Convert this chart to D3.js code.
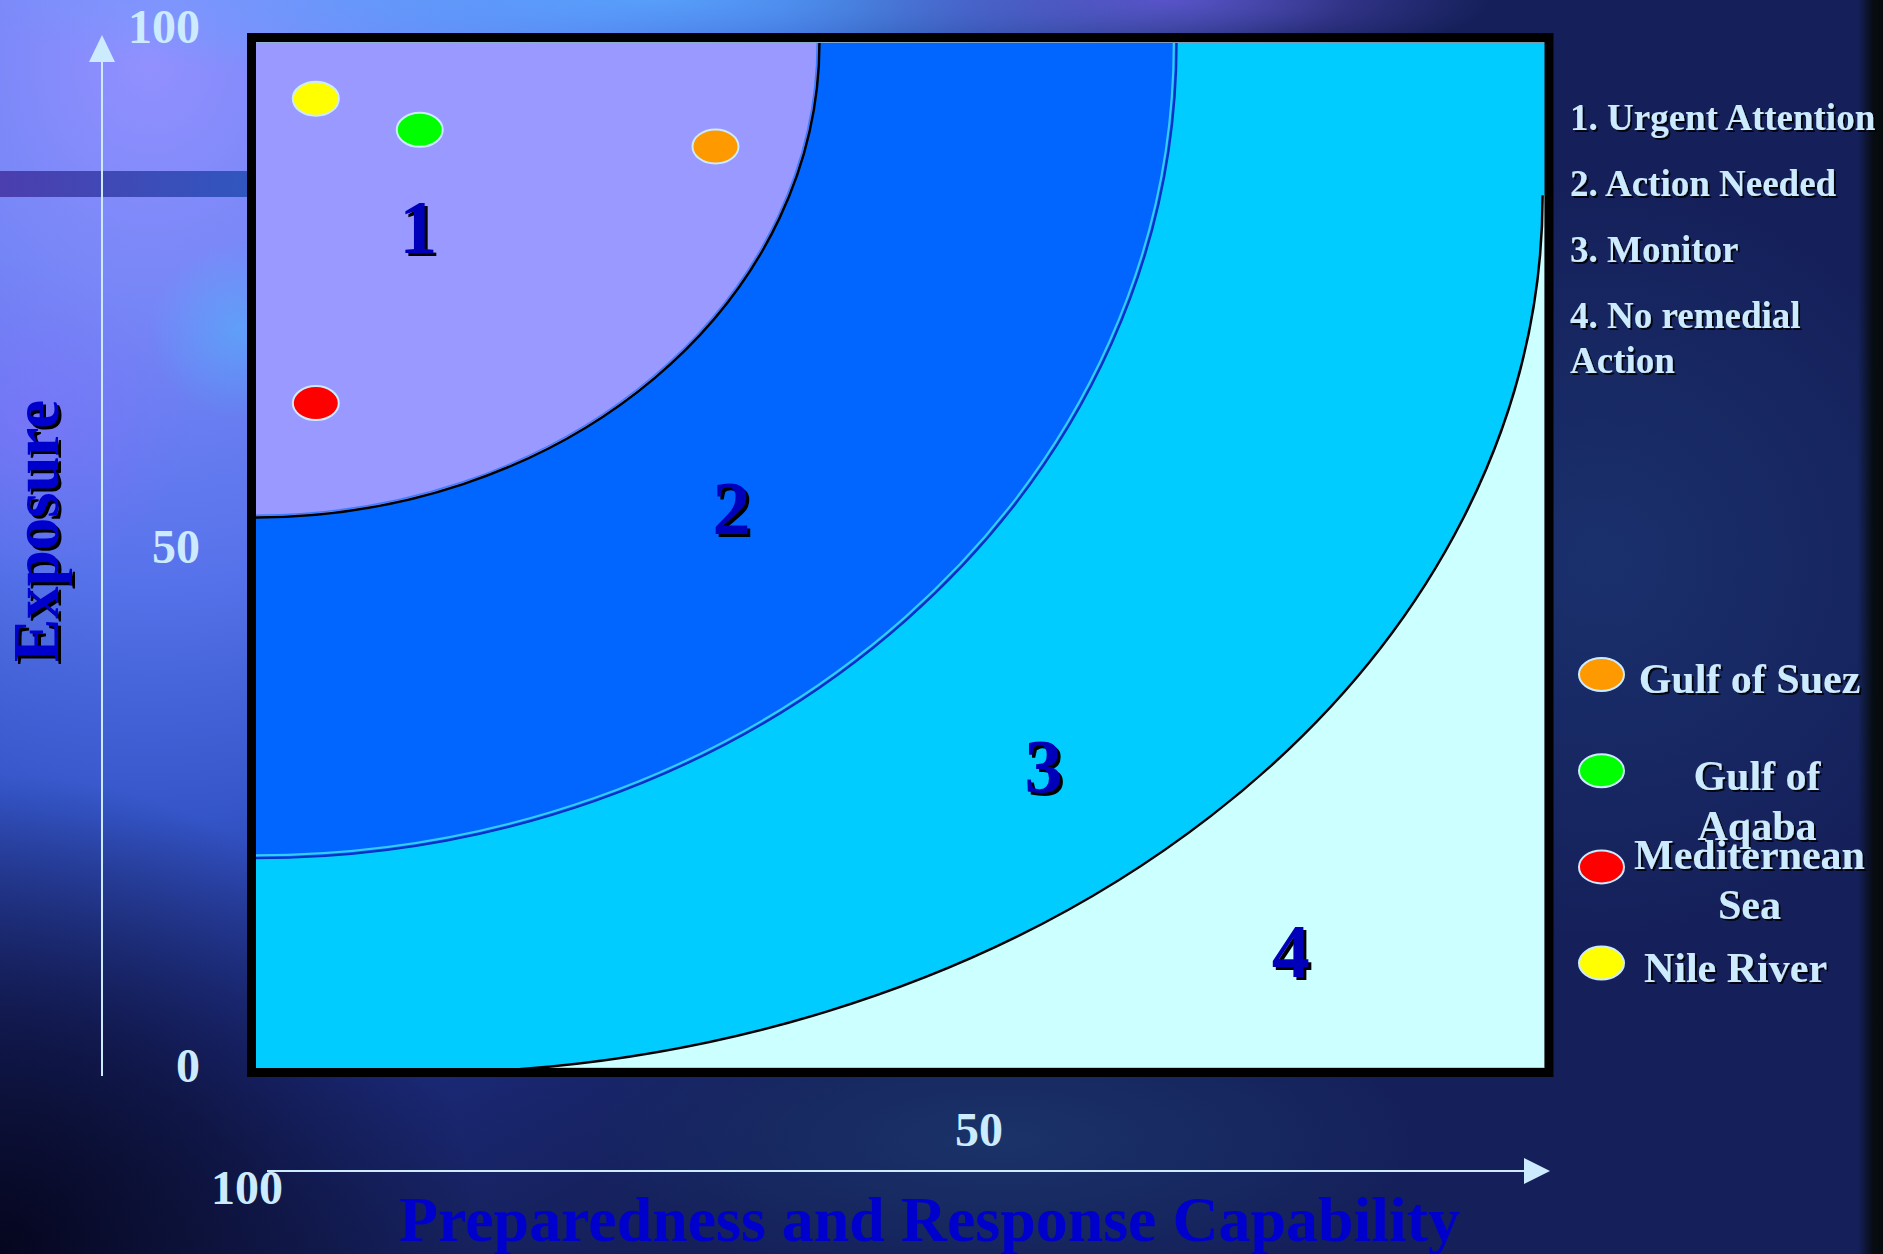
<!DOCTYPE html>
<html>
<head>
<meta charset="utf-8">
<script src="https://cdn.jsdelivr.net/npm/d3@7"></script>
<style>
  html, body { margin: 0; padding: 0; background: #15205a; overflow: hidden; }
  svg { display: block; }
  text { font-family: "Liberation Serif", "Times New Roman", "DejaVu Serif", serif; font-weight: bold; }
</style>
</head>
<body>
<div id="chart"></div>
<script>
// ---- data ----
const zoneNumbers = ["1", "2", "3", "4"];
const zoneLegend = [["1. Urgent Attention"], ["2. Action Needed"], ["3. Monitor"], ["4. No remedial", "Action"]];
// where each zone number sits (preparedness, exposure)
const zoneLabelX = [88.3, 66.9, 45.6, 28.7];
const zoneLabelY = [80.7, 53.7, 28.9, 11.1];
// zone boundaries as quarter ellipses: centre + radii in axis units
const boundaryCx = [99.4, 99.4, 88.9];
const boundaryCy = [98.5, 98.5, 83.8];
const boundaryRx = [38.5, 62.9, 77.4];
const boundaryRy = [45.7, 78.5, 84.5];

const sites = ["Gulf of Suez", "Gulf of Aqaba", "Mediternean Sea", "Nile River"];
const siteLegend = [["Gulf of Suez"], ["Gulf of", "Aqaba"], ["Mediternean", "Sea"], ["Nile River"]];
const preparedness = [68.0, 88.2, 95.3, 95.3];
const exposure = [88.5, 90.1, 63.8, 93.1];

const xTicks = [100, 50];
const yTicks = [0, 50, 100];

// ---- layout & styles ----
const W = 1883, H = 1254;
const PLOT = { left: 256, top: 43, right: 1545, bottom: 1068 };
const zoneColors = ["#9999FF", "#0066FF", "#00CCFF", "#CCFFFF"];
const siteColors = ["#FF9900", "#00FF00", "#FF0000", "#FFFF00"];
const LIGHT = "#CCEBFF";
const TITLE_BLUE = "#0000CC";

const x = d3.scaleLinear().domain([100, 50]).range([247, 979]);
const y = d3.scaleLinear().domain([0, 100]).range([1066, 27]);

const svg = d3.select("#chart").append("svg").attr("width", W).attr("height", H);
const defs = svg.append("defs");

function radial(id, stops, attrs) {
  const g = defs.append("radialGradient").attr("id", id).attr("gradientUnits", "userSpaceOnUse");
  Object.entries(attrs).forEach(([k, v]) => g.attr(k, v));
  stops.forEach(([o, c, op]) => g.append("stop").attr("offset", o).attr("stop-color", c).attr("stop-opacity", op));
}
radial("glow", [[0, "#9290FF", 1], [0.18, "#7686F6", 1], [0.38, "#5672EA", 1], [0.55, "#3658CE", 0.95], [0.72, "#22349A", 0.7], [1, "#15205a", 0]],
  { cx: 150, cy: 60, r: 1150, gradientTransform: "translate(150,60) scale(1,1.2) translate(-150,-60)" });
radial("topStrip", [[0, "#5AA8FF", 0.85], [1, "#5AA8FF", 0]],
  { cx: 650, cy: 0, r: 700, gradientTransform: "translate(650,0) scale(1,0.13) translate(-650,0)" });
radial("topPurple", [[0, "#6E5CE6", 0.7], [1, "#6E5CE6", 0]],
  { cx: 1170, cy: 0, r: 320, gradientTransform: "translate(1170,0) scale(1,0.2) translate(-1170,0)" });
radial("cyanGlow", [[0, "#44C8FF", 0.4], [1, "#44C8FF", 0]], { cx: 240, cy: 330, r: 90 });
radial("violet", [[0, "#8A70FF", 0.45], [1, "#8A70FF", 0]], { cx: 30, cy: 420, r: 160 });
radial("darkCorner", [[0, "#04041a", 0.95], [0.5, "#080a26", 0.6], [1, "#080a26", 0]], { cx: 0, cy: 1254, r: 480 });
radial("rightPatch", [[0, "#1E3E7C", 0.55], [1, "#1E3E7C", 0]], { cx: 1600, cy: 560, r: 380 });
radial("bottomPatch", [[0, "#1F4676", 0.5], [1, "#1F4676", 0]],
  { cx: 1000, cy: 1140, r: 420, gradientTransform: "translate(1000,1140) scale(1,0.35) translate(-1000,-1140)" });
const edge = defs.append("linearGradient").attr("id", "rightEdge").attr("gradientUnits", "userSpaceOnUse")
  .attr("x1", 1858).attr("x2", 1883).attr("y1", 0).attr("y2", 0);
edge.append("stop").attr("offset", 0).attr("stop-color", "#050a0a").attr("stop-opacity", 0);
edge.append("stop").attr("offset", 0.6).attr("stop-color", "#050a0a").attr("stop-opacity", 0.9);
edge.append("stop").attr("offset", 1).attr("stop-color", "#050a0a").attr("stop-opacity", 1);
const band = defs.append("linearGradient").attr("id", "band").attr("x1", 0).attr("x2", 1).attr("y1", 0).attr("y2", 0);
band.append("stop").attr("offset", 0).attr("stop-color", "#4636A6");
band.append("stop").attr("offset", 1).attr("stop-color", "#2850B8");

const shadow = defs.append("filter").attr("id", "shadow").attr("x", "-10%").attr("y", "-40%").attr("width", "130%").attr("height", "180%");
shadow.append("feDropShadow").attr("dx", 2).attr("dy", 2).attr("stdDeviation", 0.6)
  .attr("flood-color", "#000").attr("flood-opacity", 0.85);

defs.append("clipPath").attr("id", "plotClip").append("rect")
  .attr("x", PLOT.left).attr("y", PLOT.top)
  .attr("width", PLOT.right - PLOT.left).attr("height", PLOT.bottom - PLOT.top);

// ---- background ----
const bg = svg.append("g");
bg.append("rect").attr("width", W).attr("height", H).attr("fill", "#15205a");
["glow", "topStrip", "topPurple", "cyanGlow", "violet", "rightPatch", "bottomPatch", "darkCorner"].forEach(id =>
  bg.append("rect").attr("width", W).attr("height", H).attr("fill", `url(#${id})`));
bg.append("rect").attr("width", W).attr("height", H).attr("fill", "url(#rightEdge)");
bg.append("rect").attr("x", 0).attr("y", 171).attr("width", 247).attr("height", 26)
  .attr("fill", "url(#band)").attr("opacity", 0.9);

// ---- zones ----
function ellipseOf(i) {
  const cx = x(boundaryCx[i]), cy = y(boundaryCy[i]);
  const rx = x(boundaryCx[i] - boundaryRx[i]) - cx;
  const ry = y(boundaryCy[i] - boundaryRy[i]) - cy;
  return { cx, cy, rx, ry };
}
function zonePath(i) {
  const e = ellipseOf(i);
  const right = e.cy > PLOT.top + 2 ? PLOT.right + 10 : e.cx + e.rx;
  return `M${PLOT.left - 10},${PLOT.top - 10} H${right} V${e.cy} H${e.cx + e.rx}` +
    ` A${e.rx},${e.ry} 0 0 1 ${e.cx},${e.cy + e.ry} H${PLOT.left - 10} Z`;
}
function arcPath(i, inset) {
  const e = ellipseOf(i);
  const rx = e.rx - inset, ry = e.ry - inset;
  return `M${e.cx + rx},${e.cy} A${rx},${ry} 0 0 1 ${e.cx},${e.cy + ry}`;
}

const plot = svg.append("g");
plot.append("rect")
  .attr("x", PLOT.left).attr("y", PLOT.top)
  .attr("width", PLOT.right - PLOT.left).attr("height", PLOT.bottom - PLOT.top)
  .attr("fill", zoneColors[3]).attr("stroke", "#9FBFC8").attr("stroke-width", 1.5);

const zonesG = plot.append("g").attr("clip-path", "url(#plotClip)");
[2, 1, 0].forEach(i => {
  zonesG.append("path").attr("d", zonePath(i)).attr("fill", zoneColors[i]);
});
// boundary lines (outer stroke, inner highlight)
const boundaryStyle = [
  [{ inset: 2.2, color: "#3D7BFF", w: 1.5 }, { inset: 0, color: "#000", w: 2.5 }],
  [{ inset: 2.8, color: "#33CCFF", w: 2.2 }, { inset: 0, color: "#0A2FC0", w: 2.2 }],
  [{ inset: 0, color: "#000", w: 2.5 }]
];
[2, 1, 0].forEach(i => {
  boundaryStyle[i].forEach(s => {
    zonesG.append("path").attr("d", arcPath(i, s.inset))
      .attr("fill", "none").attr("stroke", s.color).attr("stroke-width", s.w);
  });
});

// frame
svg.append("rect")
  .attr("x", PLOT.left - 4.5).attr("y", PLOT.top - 5.5)
  .attr("width", PLOT.right - PLOT.left + 8.5).attr("height", PLOT.bottom - PLOT.top + 10)
  .attr("fill", "none").attr("stroke", "#000").attr("stroke-width", 9);

// zone numbers
const nums = svg.append("g").attr("text-anchor", "middle").attr("font-size", 76);
zoneNumbers.forEach((t, i) => {
  nums.append("text").attr("x", x(zoneLabelX[i]) + 3).attr("y", y(zoneLabelY[i]) + 3)
    .attr("dy", "0.34em").attr("fill", "#000").text(t);
  nums.append("text").attr("x", x(zoneLabelX[i])).attr("y", y(zoneLabelY[i]))
    .attr("dy", "0.34em").attr("fill", "#0000BB").text(t);
});

// site points
svg.append("g").selectAll("ellipse").data(sites).join("ellipse")
  .attr("cx", (d, i) => x(preparedness[i]))
  .attr("cy", (d, i) => y(exposure[i]))
  .attr("rx", 23).attr("ry", 17)
  .attr("fill", (d, i) => siteColors[i])
  .attr("stroke", LIGHT).attr("stroke-width", 2);

// ---- axes ----
const axes = svg.append("g").attr("fill", LIGHT).attr("stroke", LIGHT);
axes.append("line").attr("x1", 102).attr("x2", 102).attr("y1", 1076).attr("y2", 60).attr("stroke-width", 2);
axes.append("path").attr("d", "M102,35 L89,62 L115,62 Z").attr("stroke", "none");
axes.append("line").attr("x1", 267).attr("x2", 1526).attr("y1", 1171).attr("y2", 1171).attr("stroke-width", 2);
axes.append("path").attr("d", "M1550,1171 L1524,1158 L1524,1184 Z").attr("stroke", "none");

const tickG = svg.append("g").attr("fill", LIGHT).attr("font-size", 48);
yTicks.forEach(v => {
  tickG.append("text").attr("x", 200).attr("y", y(v)).attr("dy", "0.34em")
    .attr("text-anchor", "end").text(v);
});
const xTickY = { 100: 1188, 50: 1130 };
xTicks.forEach(v => {
  tickG.append("text").attr("x", x(v)).attr("y", xTickY[v]).attr("dy", "0.34em")
    .attr("text-anchor", "middle").text(v);
});

// axis titles
svg.append("text").attr("x", 929.5).attr("y", 1241).attr("text-anchor", "middle")
  .attr("font-size", 64).attr("textLength", 1061).attr("lengthAdjust", "spacingAndGlyphs")
  .attr("fill", TITLE_BLUE).text("Preparedness and Response Capability");
[[3, "#000"], [0, TITLE_BLUE]].forEach(([o, c]) => {
  svg.append("text").attr("transform", `translate(${58 + o},${531 + o}) rotate(-90)`)
    .attr("text-anchor", "middle").attr("font-size", 66)
    .attr("textLength", 262).attr("lengthAdjust", "spacingAndGlyphs")
    .attr("fill", c).text("Exposure");
});

// ---- legends ----
const zl = svg.append("g").attr("fill", LIGHT).attr("font-size", 37).attr("filter", "url(#shadow)");
zoneLegend.forEach((lines, i) => {
  lines.forEach((line, j) => {
    zl.append("text").attr("x", 1570).attr("y", 130 + i * 66 + j * 45).text(line);
  });
});

const sl = svg.append("g");
const legendTextX = [1749.5, 1757, 1749.5, 1735.5];
const legendFirstDy = [18.5, 19, 2, 19];
siteLegend.forEach((lines, i) => {
  const cy = 674.5 + i * 96.2;
  sl.append("ellipse").attr("cx", 1601.5).attr("cy", cy).attr("rx", 22.5).attr("ry", 16.5)
    .attr("fill", siteColors[i]).attr("stroke", LIGHT).attr("stroke-width", 2);
  lines.forEach((line, j) => {
    sl.append("text").attr("x", legendTextX[i]).attr("y", cy + legendFirstDy[i] + j * 50.5)
      .attr("text-anchor", "middle").attr("font-size", 42).attr("fill", LIGHT)
      .attr("filter", "url(#shadow)").text(line);
  });
});
</script>
</body>
</html>
